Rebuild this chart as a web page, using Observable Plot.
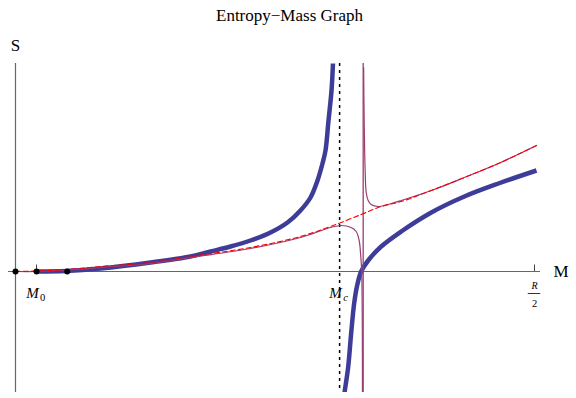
<!DOCTYPE html>
<html><head><meta charset="utf-8">
<script src="https://cdn.jsdelivr.net/npm/d3@7"></script>
<script src="https://cdn.jsdelivr.net/npm/@observablehq/plot@0.6"></script>
<style>body{margin:0;background:#fff} svg{display:block}</style>
</head><body><div id="chart"></div>
<script>
// ---- data (M in units of R/2, S in arbitrary units) ----
const title = "Entropy\u2212Mass Graph";
const xLabel = "M";
const yLabel = "S";

const M0 = 0.0405;
const Mc = 0.6245;
const Mpole = 0.6699;
const Rhalf = 1.0;
const markedPoints = [0, 0.0405, 0.0996];

// thick blue curve, branch left of the divergence
const blueLeftM = [0.0405, 0.0983, 0.1638, 0.2601, 0.3372, 0.3757, 0.4143, 0.4528, 0.4913, 0.5241, 0.5491, 0.5684, 0.5819, 0.5915, 0.5973, 0.6031, 0.6089, 0.6117];
const blueLeftS = [0, 0.005, 0.03, 0.09, 0.15, 0.20, 0.25, 0.31, 0.39, 0.49, 0.61, 0.74, 0.91, 1.08, 1.21, 1.51, 1.81, 2.08];
// thick blue curve, branch right of the divergence
const blueRightM = [0.6340, 0.6351, 0.6409, 0.6467, 0.6525, 0.6583, 0.6660, 0.6795, 0.7046, 0.7432, 0.8012, 0.8649, 0.9305, 1.0039];
const blueRightS = [-1.21, -1.17, -0.96, -0.62, -0.32, -0.14, 0, 0.11, 0.25, 0.40, 0.59, 0.75, 0.88, 1.01];

// red dashed curve
const redM = [0, 0.0405, 0.0985, 0.164, 0.2606, 0.3372, 0.4528, 0.5491, 0.6070, 0.6660, 0.7046, 0.7432, 0.8012, 0.8649, 0.9305, 1.0039];
const redS = [0, 0.005, 0.02, 0.05, 0.09, 0.15, 0.24, 0.35, 0.45, 0.57, 0.65, 0.70, 0.81, 0.94, 1.08, 1.26];

// thin purple curve, left of its pole
const purpleLeftM = [0, 0.0405, 0.0985, 0.164, 0.2606, 0.3372, 0.4528, 0.5491, 0.6070, 0.6274, 0.6467, 0.6564, 0.6622, 0.6651, 0.6670, 0.6685];
const purpleLeftS = [0, 0, 0.015, 0.04, 0.08, 0.14, 0.23, 0.34, 0.44, 0.46, 0.44, 0.40, 0.31, 0.16, 0, -1.21];
// thin purple curve, right of its pole
const purpleRightM = [0.6708, 0.6718, 0.6737, 0.6757, 0.6795, 0.6853, 0.6988, 0.7239, 0.7432, 0.8012, 0.8649, 0.9305, 1.0039];
const purpleRightS = [2.04, 1.51, 1.01, 0.79, 0.71, 0.67, 0.65, 0.68, 0.71, 0.81, 0.94, 1.08, 1.26];

const xDomain = [-0.01349, 1.01156];
const yDomain = [-1.21, 2.08];
const tickLen = 0.065;

const toRows = (ms, ss) => ms.map((m, i) => ({M: m, S: ss[i]}));
const blueLeft = toRows(blueLeftM, blueLeftS);
const blueRight = toRows(blueRightM, blueRightS);
const red = toRows(redM, redS);
const purpleLeft = toRows(purpleLeftM, purpleLeftS);
const purpleRight = toRows(purpleRightM, purpleRightS);

const blue = "#3d3d99", purple = "#993d71";

const chart = Plot.plot({
  width: 576, height: 398,
  marginTop: 63, marginBottom: 6, marginLeft: 8, marginRight: 36,
  x: {domain: xDomain, axis: null},
  y: {domain: yDomain, axis: null},
  style: {fontFamily: "'Liberation Serif', serif", background: "white", color: "black"},
  marks: [
    Plot.ruleX([0], {stroke: "#666", strokeWidth: 1.2}),
    Plot.ruleY([0], {stroke: "#666", strokeWidth: 1.2}),
    Plot.ruleX([M0, Rhalf], {x: d => d, y1: 0, y2: tickLen, stroke: "#444", strokeWidth: 1}),
    Plot.ruleX([Mc], {stroke: "black", strokeDasharray: "3,4", strokeWidth: 1.5}),
    Plot.line(blueLeft, {x: "M", y: "S", stroke: blue, strokeWidth: 4.5, curve: "catmull-rom", clip: true, strokeLinecap: "butt"}),
    Plot.line(blueRight, {x: "M", y: "S", stroke: blue, strokeWidth: 4.5, curve: "catmull-rom", clip: true, strokeLinecap: "butt"}),
    Plot.ruleX([Mpole], {stroke: purple, strokeWidth: 1.3}),
    Plot.line(purpleLeft, {x: "M", y: "S", stroke: purple, strokeWidth: 1.2, curve: "catmull-rom", clip: true}),
    Plot.line(purpleRight, {x: "M", y: "S", stroke: purple, strokeWidth: 1.2, curve: "catmull-rom", clip: true}),
    Plot.line(red, {x: "M", y: "S", stroke: "red", strokeWidth: 1.1, strokeDasharray: "5,3", curve: "catmull-rom", clip: true}),
    Plot.dot(markedPoints, {x: d => d, y: 0, r: 3, fill: "black"}),
    Plot.text([title], {text: d => d, frameAnchor: "top", dx: 15, dy: -55, fontSize: 17}),
    Plot.text([yLabel], {text: d => d, x: 0, frameAnchor: "top", dy: -25, fontSize: 17}),
    Plot.text([xLabel], {text: d => d, y: 0, frameAnchor: "right", dx: 28, fontSize: 17}),
    Plot.text(["M"], {text: d => d, x: M0, y: 0, dx: -4, dy: 22, fontSize: 15, fontStyle: "italic"}),
    Plot.text(["0"], {text: d => d, x: M0, y: 0, dx: 6, dy: 26, fontSize: 10.5}),
    Plot.text(["M"], {text: d => d, x: Mc, y: 0, dx: -4, dy: 22, fontSize: 15, fontStyle: "italic"}),
    Plot.text(["c"], {text: d => d, x: Mc, y: 0, dx: 6, dy: 26, fontSize: 10.5, fontStyle: "italic"}),
    Plot.text(["R"], {text: d => d, x: Rhalf, y: 0, dx: 0, dy: 14, fontSize: 10, fontStyle: "italic"}),
    Plot.ruleY([0], {x1: Rhalf - 0.012, x2: Rhalf + 0.012, dy: 22, stroke: "black", strokeWidth: 0.8}),
    Plot.text(["2"], {text: d => d, x: Rhalf, y: 0, dx: 0, dy: 32, fontSize: 10.5})
  ]
});
document.getElementById("chart").appendChild(chart);
</script></body></html>
